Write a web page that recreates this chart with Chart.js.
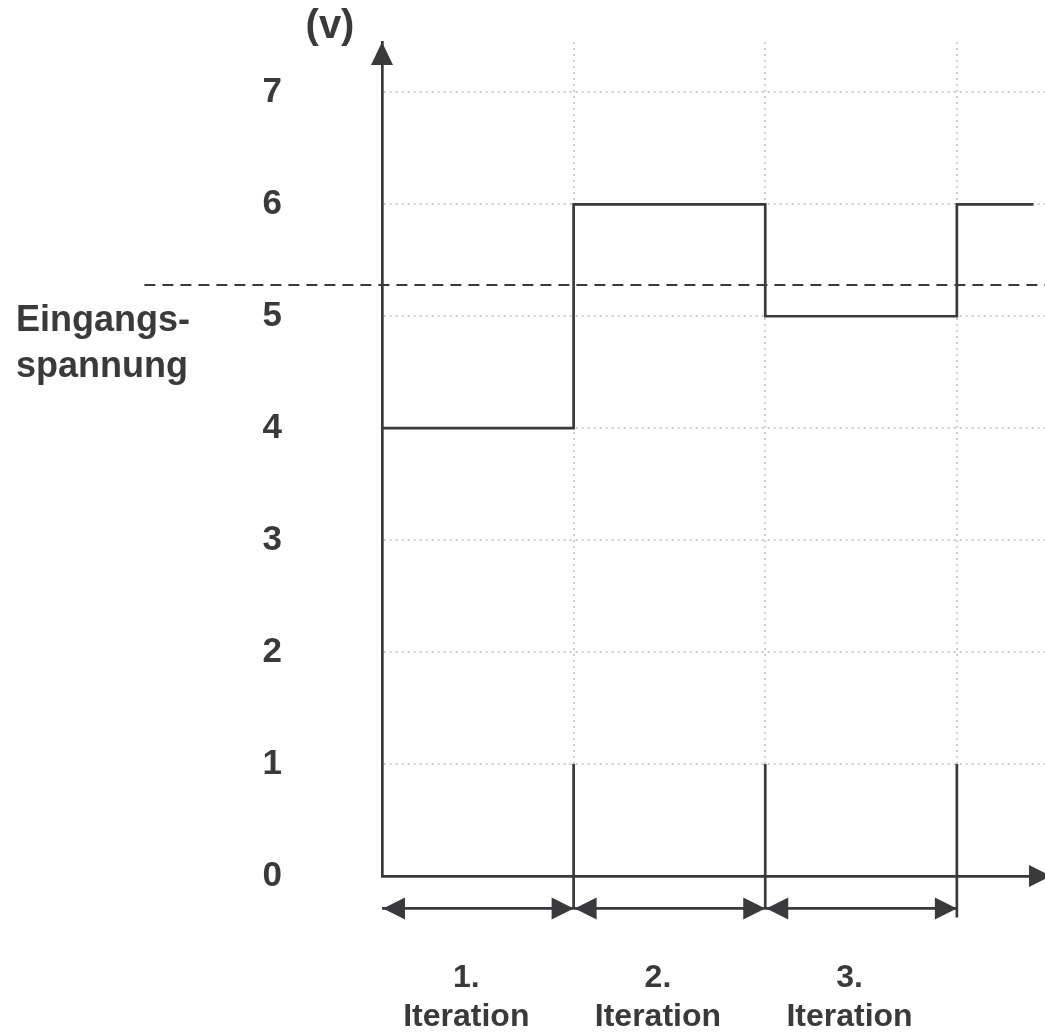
<!DOCTYPE html>
<html>
<head>
<meta charset="utf-8">
<script src="https://cdn.jsdelivr.net/npm/chart.js@4/dist/chart.umd.min.js"></script>
<style>
  body { margin: 0; background: #fff; }
  canvas { display: block; }
</style>
</head>
<body>
<canvas id="iterChart" width="1045" height="1034"></canvas>
<script>
// iteration boundaries on the time axis and the voltage held during each step
const stepStarts = [0, 1, 2, 3];
const stepLevels = [4, 6, 5, 6];
const signalEnd = 3.4;
const threshold = 5.28;          // dashed comparison level
const thresholdFrom = -1.24;     // the dashed line reaches past the y axis
const thresholdTo = 3.46;
const boundaryTop = 1;
const boundaryBottoms = [-0.29, -0.29, -0.37];
const arrowLevel = -0.29;
const iterationLabels = [['1.', 'Iteration'], ['2.', 'Iteration'], ['3.', 'Iteration']];
const yLabel = ['Eingangs-', 'spannung'];
const unitLabel = '(v)';

const ink = '#3a3a3d';
const gridInk = '#d3caca';
const font = '"Liberation Sans", Arial, sans-serif';

function triangle(ctx, tx, ty, dx, dy, len, half) {
    const bx = tx - dx * len, by = ty - dy * len;
    ctx.beginPath();
    ctx.moveTo(tx, ty);
    ctx.lineTo(bx - dy * half, by + dx * half);
    ctx.lineTo(bx + dy * half, by - dx * half);
    ctx.closePath();
    ctx.fill();
}

const decorations = {
    id: 'decorations',
    afterDatasetsDraw(chart) {
        const { ctx, chartArea, scales: { x, y } } = chart;
        ctx.save();
        ctx.fillStyle = ink;

        // axis arrow heads
        triangle(ctx, chartArea.left, chartArea.top, 0, -1, 23, 11);
        triangle(ctx, chartArea.right + 6, chartArea.bottom, 1, 0, 22, 11);

        // double arrows under each iteration
        const ay = y.getPixelForValue(arrowLevel);
        for (let i = 0; i < stepStarts.length - 1; i++) {
            const left = x.getPixelForValue(stepStarts[i]) + 1;
            const right = x.getPixelForValue(stepStarts[i + 1]);
            triangle(ctx, left, ay, -1, 0, 22, 11);
            triangle(ctx, right, ay, 1, 0, 22, 11);
        }

        // iteration captions
        ctx.font = 'bold 32px ' + font;
        ctx.textAlign = 'center';
        ctx.textBaseline = 'alphabetic';
        iterationLabels.forEach((lines, i) => {
            const cx = x.getPixelForValue(stepStarts[i] + 0.44);
            ctx.fillText(lines[0], cx, 987);
            ctx.fillText(lines[1], cx, 1026);
        });

        // axis captions
        ctx.font = 'bold 36px ' + font;
        ctx.textAlign = 'left';
        ctx.fillText(yLabel[0], 16, 331);
        ctx.fillText(yLabel[1], 16, 377);
        ctx.font = 'bold 40px ' + font;
        ctx.textAlign = 'center';
        ctx.fillText(unitLabel, 330, 38);
        ctx.restore();
    }
};

const signal = stepStarts.map((s, i) => ({ x: s, y: stepLevels[i] }));
signal.push({ x: signalEnd, y: stepLevels[stepLevels.length - 1] });

const boundaries = [];
stepStarts.slice(1).forEach((s, i) => {
    boundaries.push({ x: s, y: boundaryTop }, { x: s, y: boundaryBottoms[i] }, { x: s + 0.5, y: null });
});

const arrowLines = [];
for (let i = 0; i < stepStarts.length - 1; i++) {
    arrowLines.push({ x: stepStarts[i], y: arrowLevel }, { x: stepStarts[i + 1], y: arrowLevel });
}

const lineStyle = {
    borderColor: ink,
    borderWidth: 2.7,
    pointRadius: 0,
    fill: false,
    clip: false,
    borderJoinStyle: 'miter',
    tension: 0
};

const ctx = document.getElementById('iterChart').getContext('2d');
new Chart(ctx, {
    type: 'line',
    data: {
        datasets: [
            { ...lineStyle, data: signal, stepped: 'before' },
            { ...lineStyle, data: boundaries, spanGaps: false },
            { ...lineStyle, data: arrowLines },
            { ...lineStyle, data: [{ x: thresholdFrom, y: threshold }, { x: thresholdTo, y: threshold }], borderWidth: 2, borderDash: [11, 7] }
        ]
    },
    options: {
        responsive: false,
        animation: false,
        layout: { padding: { left: 0, top: 42, right: 0, bottom: 158 } },
        plugins: {
            legend: { display: false },
            tooltip: { enabled: false }
        },
        scales: {
            x: {
                type: 'linear',
                min: 0,
                max: 3.46,
                ticks: { display: false, stepSize: 1 },
                afterBuildTicks: (scale) => { scale.ticks = scale.ticks.filter(t => Number.isInteger(t.value)); },
                afterFit: (scale) => { scale.height = 0; scale.paddingLeft = 0; scale.paddingRight = 0; },
                grid: { color: gridInk, lineWidth: 2, drawTicks: false },
                border: { color: ink, width: 2.7, dash: [2, 4] }
            },
            y: {
                type: 'linear',
                min: 0,
                max: 7.45,
                ticks: {
                    stepSize: 1,
                    padding: 100,
                    color: ink,
                    font: { family: font, size: 35, weight: 'bold' }
                },
                afterBuildTicks: (scale) => { scale.ticks = scale.ticks.filter(t => Number.isInteger(t.value)); },
                afterFit: (scale) => { scale.width = 382; scale.paddingTop = 0; scale.paddingBottom = 0; },
                grid: { color: gridInk, lineWidth: 2, drawTicks: false },
                border: { color: ink, width: 2.7, dash: [2, 4] }
            }
        }
    },
    plugins: [decorations]
});
</script>
</body>
</html>
